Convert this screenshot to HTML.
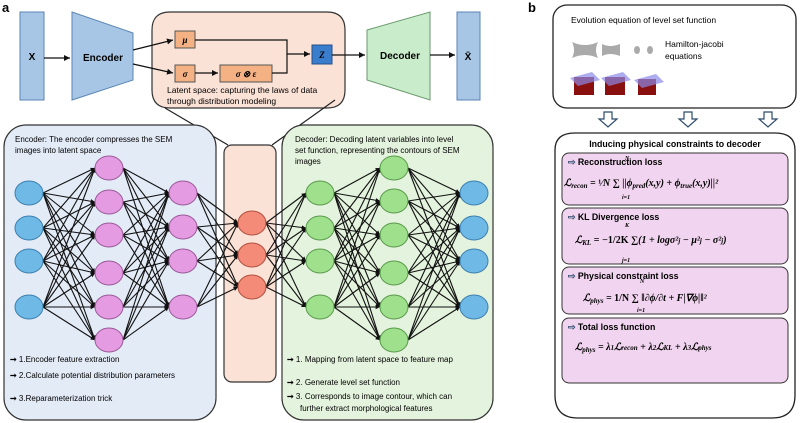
<!DOCTYPE html>
<html><head><meta charset="utf-8"><style>
body{margin:0;background:#fff;}
svg{display:block;font-family:"Liberation Sans",sans-serif;}
.m{font-family:"Liberation Serif",serif;font-style:italic;font-weight:bold;}
</style></head><body>
<svg id="s" width="800" height="423" viewBox="0 0 800 423" xmlns="http://www.w3.org/2000/svg">
<defs>
<marker id="a" markerWidth="6" markerHeight="6" refX="5" refY="3" orient="auto"><path d="M0,0.5 L5,3 L0,5.5z" fill="#111"/></marker>
<marker id="b" markerWidth="5" markerHeight="5" refX="4" refY="2.5" orient="auto"><path d="M0,0.5 L4,2.5 L0,4.5z" fill="#111"/></marker>
</defs>
<text x="2" y="12" font-size="13" font-weight="bold">a</text>
<text x="528" y="12" font-size="13" font-weight="bold">b</text>
<rect x="20" y="12" width="24" height="88" fill="#a7c6e6" stroke="#5b86b5"/>
<text x="32" y="60" font-size="10" font-weight="bold" text-anchor="middle">X</text>
<line x1="44" y1="58" x2="70" y2="58" stroke="#111" stroke-width="1.2" marker-end="url(#a)"/>
<polygon points="72,12 133,33 133,80 72,100" fill="#a7c6e6" stroke="#5b86b5"/>
<text x="103" y="61" font-size="10" font-weight="bold" text-anchor="middle">Encoder</text>
<path d="M152,30 Q152,12 170,12 L327,12 Q345,12 345,30 L345,90 Q345,108 327,108 L170,108 Q152,108 152,90z" fill="#fbe2d6" stroke="#333" stroke-width="1.2"/>
<line x1="133" y1="50" x2="173" y2="40" stroke="#111" stroke-width="1.2" marker-end="url(#a)"/>
<line x1="133" y1="64" x2="173" y2="73" stroke="#111" stroke-width="1.2" marker-end="url(#a)"/>
<rect x="175" y="31" width="20" height="17" fill="#f4b183" stroke="#555"/>
<text x="185" y="43" font-size="9" class="m" text-anchor="middle">μ</text>
<rect x="175" y="65" width="20" height="17" fill="#f4b183" stroke="#555"/>
<text x="185" y="77" font-size="9" class="m" text-anchor="middle">σ</text>
<line x1="195" y1="73" x2="218" y2="73" stroke="#111" stroke-width="1.2" marker-end="url(#a)"/>
<rect x="220" y="65" width="52" height="17" fill="#f4b183" stroke="#555"/>
<text x="246" y="77" font-size="9" class="m" text-anchor="middle">σ ⊗ ε</text>
<polyline points="195,40 287,40 287,54 310,54" fill="none" stroke="#111" stroke-width="1.2" marker-end="url(#a)"/>
<polyline points="272,73 287,73 287,54" fill="none" stroke="#111" stroke-width="1.2"/>
<rect x="312" y="45" width="20" height="19" fill="#3a7dcc" stroke="#24508a"/>
<text x="322" y="58" font-size="9" class="m" text-anchor="middle">Z</text>
<line x1="332" y1="55" x2="365" y2="55" stroke="#111" stroke-width="1.2" marker-end="url(#a)"/>
<text x="167" y="93" font-size="8.5">Latent space: capturing the laws of data</text>
<text x="167" y="104" font-size="8.5">through distribution modeling</text>
<polygon points="367,30 430,12 430,100 367,80" fill="#c9eccb" stroke="#6a9a6c"/>
<text x="400" y="59" font-size="10" font-weight="bold" text-anchor="middle">Decoder</text>
<line x1="430" y1="55" x2="455" y2="55" stroke="#111" stroke-width="1.2" marker-end="url(#a)"/>
<rect x="457" y="12" width="23" height="88" fill="#a7c6e6" stroke="#5b86b5"/>
<text x="468" y="60" font-size="10" font-weight="bold" text-anchor="middle">X̄</text>
<line x1="165" y1="108" x2="228" y2="145" stroke="#222" stroke-width="1.2"/>
<line x1="335" y1="100" x2="272" y2="145" stroke="#222" stroke-width="1.2"/>
<rect x="4" y="125" width="212" height="295" rx="22" fill="#e3ebf7" stroke="#333" stroke-width="1.2"/>
<rect x="282" y="125" width="211" height="295" rx="22" fill="#e4f3dd" stroke="#333" stroke-width="1.2"/>
<rect x="224" y="145" width="52" height="237" rx="8" fill="#fbe2d6" stroke="#333" stroke-width="1.2"/>
<text x="15" y="142" font-size="8">Encoder: The encoder compresses the SEM</text>
<text x="15" y="153" font-size="8">images into latent space</text>
<text x="295" y="142" font-size="8">Decoder: Decoding latent variables into level</text>
<text x="295" y="153" font-size="8">set function, representing the contours of SEM</text>
<text x="295" y="164" font-size="8">images</text>
<g id="net"></g>
<g font-size="8">
<text x="10" y="362"><tspan font-weight="bold">➞</tspan> 1.Encoder feature extraction</text>
<text x="10" y="378"><tspan font-weight="bold">➞</tspan> 2.Calculate potential distribution parameters</text>
<text x="10" y="401"><tspan font-weight="bold">➞</tspan> 3.Reparameterization trick</text>
<text x="287" y="362"><tspan font-weight="bold">➞</tspan> 1. Mapping from latent space to feature map</text>
<text x="287" y="385"><tspan font-weight="bold">➞</tspan> 2. Generate level set function</text>
<text x="287" y="399"><tspan font-weight="bold">➞</tspan> 3. Corresponds to image contour, which can</text>
<text x="300" y="411">further extract morphological features</text>
</g>
<rect x="553" y="5" width="243" height="103" rx="14" fill="#fff" stroke="#222" stroke-width="1.3"/>
<text x="571" y="23" font-size="8.5">Evolution equation of level set function</text>
<g fill="#aaa"><path d="M572,42 Q585,48 598,42 Q594,50 598,58 Q585,52 572,58 Q576,50 572,42z"/><path d="M602,44 Q610,48 620,44 L620,56 Q610,52 602,56z"/><ellipse cx="637" cy="50" rx="3" ry="4"/><ellipse cx="650" cy="50" rx="3" ry="4"/></g>
<text x="665" y="47" font-size="8.5">Hamilton-jacobi</text>
<text x="665" y="59" font-size="8.5">equations</text>
<g><rect x="574" y="77" width="20" height="18" fill="#8a1010"/><rect x="605" y="77" width="20" height="18" fill="#8a1010"/><rect x="638" y="79" width="18" height="16" fill="#8a1010"/>
<polygon points="570,78 592,72 600,80 578,86" fill="#8a8ae8" opacity=".7"/><polygon points="601,78 623,72 631,80 609,86" fill="#8a8ae8" opacity=".7"/><polygon points="634,80 656,74 664,82 642,88" fill="#8a8ae8" opacity=".7"/></g>
<g fill="#fff" stroke="#2c4a6a" stroke-width="1.2">
<path d="M604,112 h8 v7 h5 l-9,8 l-9,-8 h5z"/><path d="M684,112 h8 v7 h5 l-9,8 l-9,-8 h5z"/><path d="M764,112 h8 v7 h5 l-9,8 l-9,-8 h5z"/></g>
<path d="M555,150 Q555,133 575,133 L775,133 Q795,133 795,150 L795,395 Q795,418 772,418 L578,418 Q555,418 555,395z" fill="#fff" stroke="#222" stroke-width="1.3"/>
<text x="675" y="147" font-size="8.8" font-weight="bold" text-anchor="middle">Inducing physical constraints to decoder</text>
<g fill="#f1d4ef" stroke="#333">
<rect x="562" y="153" width="226" height="52" rx="7"/>
<rect x="562" y="208" width="226" height="56" rx="7"/>
<rect x="562" y="267" width="226" height="47" rx="7"/>
<rect x="562" y="318" width="226" height="65" rx="7"/>
</g>
<g font-size="8.8" font-weight="bold">
<text x="568" y="165"><tspan fill="#2c4a6a">⇨</tspan> Reconstruction loss</text>
<text x="568" y="220"><tspan fill="#2c4a6a">⇨</tspan> KL Divergence loss</text>
<text x="568" y="279"><tspan fill="#2c4a6a">⇨</tspan> Physical constraint loss</text>
<text x="568" y="330"><tspan fill="#2c4a6a">⇨</tspan> Total loss function</text>
</g>
<g class="m" font-size="10">
<text x="564" y="186">ℒ<tspan font-size="7" dy="2">recon</tspan><tspan dy="-2"> = </tspan><tspan font-style="normal">¹⁄</tspan>N ∑ ||ϕ<tspan font-size="7" dy="2">pred</tspan><tspan dy="-2">(x,y) + ϕ</tspan><tspan font-size="7" dy="2">true</tspan><tspan dy="-2">(x,y)||²</tspan></text>
<text x="575" y="243">ℒ<tspan font-size="7" dy="2">KL</tspan><tspan dy="-2"> = −</tspan><tspan font-style="normal">1/2K</tspan> ∑(1 + logσ²<tspan font-size="7">j</tspan> − μ²<tspan font-size="7">j</tspan> − σ²<tspan font-size="7">j</tspan>)</text>
<text x="583" y="301">ℒ<tspan font-size="7" dy="2">phys</tspan><tspan dy="-2"> = </tspan><tspan font-style="normal">1/N</tspan> ∑ ‖∂ϕ/∂t + F|∇ϕ|‖²</text>
<text x="575" y="350">ℒ<tspan font-size="7" dy="2">phys</tspan><tspan dy="-2"> = λ</tspan><tspan font-size="7">1</tspan>ℒ<tspan font-size="7">recon</tspan> + λ<tspan font-size="7">2</tspan>ℒ<tspan font-size="7">KL</tspan> + λ<tspan font-size="7">3</tspan>ℒ<tspan font-size="7">phys</tspan></text>
</g>
<g font-size="6" class="m"><text x="625" y="160">N</text><text x="622" y="199">i=1</text><text x="625" y="227">K</text><text x="622" y="262">j=1</text><text x="640" y="283">N</text><text x="637" y="312">i=1</text></g>
</svg>
<script>
var L=[
 {x:29,ys:[193,228,261,307],f:"#6fb9e6",s:"#3d7fae"},
 {x:109,ys:[168,202,235,273,307,340],f:"#e59be2",s:"#9a5a98"},
 {x:183,ys:[193,227,261,307],f:"#e59be2",s:"#9a5a98"},
 {x:252,ys:[223,255,287],f:"#f48a78",s:"#b0503f"},
 {x:320,ys:[193,228,261,307],f:"#9ee08c",s:"#5a9a4c"},
 {x:394,ys:[168,201,235,273,307,340],f:"#9ee08c",s:"#5a9a4c"},
 {x:474,ys:[193,228,261,307],f:"#6fb9e6",s:"#3d7fae"}];
var g=document.getElementById("net"),h="",rx=14,ry=12;
for(var i=0;i<L.length-1;i++){var A=L[i],B=L[i+1];
 A.ys.forEach(function(y1){B.ys.forEach(function(y2){
  h+='<line x1="'+(A.x+rx)+'" y1="'+y1+'" x2="'+(B.x-rx)+'" y2="'+y2+'" stroke="#111" stroke-width="1.1" marker-end="url(#b)"/>';});});}
L.forEach(function(l){l.ys.forEach(function(y){h+='<ellipse cx="'+l.x+'" cy="'+y+'" rx="'+rx+'" ry="'+ry+'" fill="'+l.f+'" stroke="'+l.s+'"/>';});});
g.innerHTML=h;
</script>
</body></html>
